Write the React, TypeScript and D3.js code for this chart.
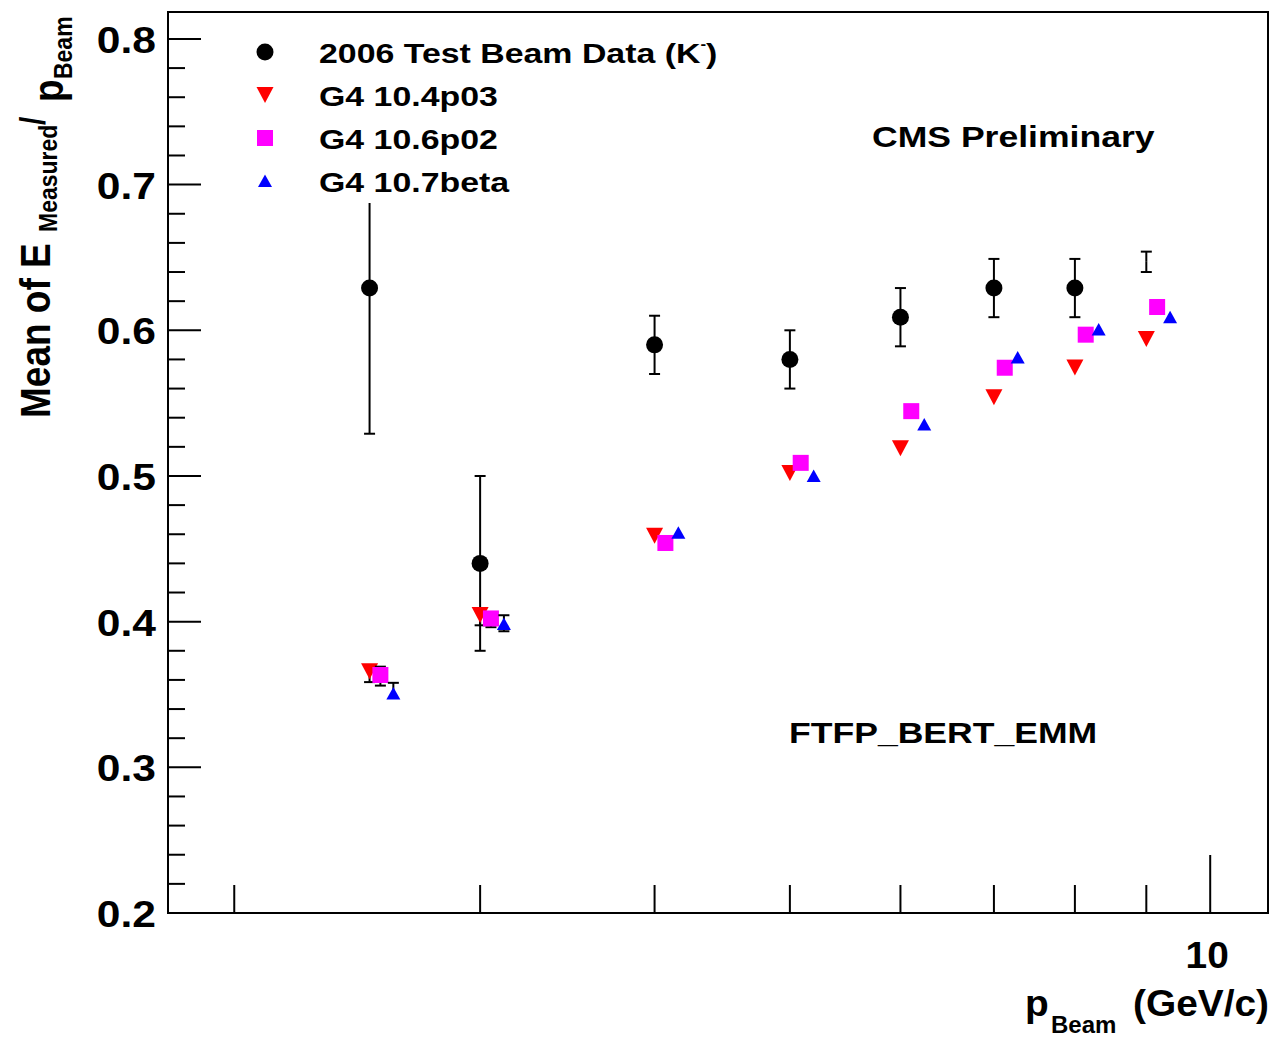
import React from 'react';
import * as d3 from 'd3';

// ---- data ----
const beamP = [2.5, 3, 4, 5, 6, 7, 8, 9];
const dataMean = [0.629, 0.44, 0.59, 0.58, 0.609, 0.629, 0.629, 0.647];
const dataErr = [0.1, 0.06, 0.02, 0.02, 0.02, 0.02, 0.02, 0.007];
const dataMarkerShown = [true, true, true, true, true, true, true, false];

const g4_104 = [0.366, 0.4045, 0.459, 0.502, 0.519, 0.554, 0.5745, 0.594];
const g4_104_lo = [0.0075, 0.007, 0, 0, 0, 0, 0, 0];
const g4_104_hi = [0, 0, 0, 0, 0, 0, 0, 0];

const g4_106 = [0.3634, 0.4022, 0.454, 0.509, 0.5445, 0.5743, 0.597, 0.616];
const g4_106_lo = [0.0073, 0.006, 0, 0, 0, 0, 0, 0];
const g4_106_hi = [0.0057, 0, 0, 0, 0, 0, 0, 0];

const g4_107 = [0.3507, 0.3984, 0.461, 0.5, 0.5354, 0.5813, 0.6006, 0.609];
const g4_107_lo = [0, 0.005, 0, 0, 0, 0, 0, 0];
const g4_107_hi = [0.0073, 0.006, 0, 0, 0, 0, 0, 0];

const xShift = { g104: 1.0, g106: 1.018, g107: 1.04 };

const yMajorTicks = [0.2, 0.3, 0.4, 0.5, 0.6, 0.7, 0.8];
const yTickLabels = ['0.2', '0.3', '0.4', '0.5', '0.6', '0.7', '0.8'];
const xMinorTicks = [2, 3, 4, 5, 6, 7, 8, 9];
const xMajorTicks = [10];
const xTickLabels = ['10'];

const legendLabels = ['2006 Test Beam Data (K', 'G4 10.4p03', 'G4 10.6p02', 'G4 10.7beta'];

// ---- layout ----
const W = 1269;
const H = 1038;
const L = 168, R = 1268, T = 12, B = 913;
const FONT = '"Liberation Sans", Arial, Helvetica, sans-serif';
const SX = 1.15;

const x = d3.scaleLog().domain([1.793, 11.0]).range([L, R]);
const y = d3.scaleLinear().domain([0.2, 0.8185]).range([B, T]);

function Txt({ x: tx, y: ty, size, anchor = 'start', sx = SX, children }: any) {
  return (
    <g transform={`translate(${tx},${ty}) scale(${sx},1)`}>
      <text x={0} y={0} fontSize={size} fontWeight="bold" fontFamily={FONT} textAnchor={anchor} fill="#000">
        {children}
      </text>
    </g>
  );
}

type Shape = 'circle' | 'tridown' | 'square' | 'triup';

function Marker({ cx, cy, shape, color }: { cx: number; cy: number; shape: Shape; color: string }) {
  if (shape === 'circle') return <circle cx={cx} cy={cy} r={8.5} fill={color} />;
  if (shape === 'square') return <rect x={cx - 8} y={cy - 8} width={16} height={16} fill={color} />;
  if (shape === 'tridown')
    return <polygon points={`${cx - 8.5},${cy - 8} ${cx + 8.5},${cy - 8} ${cx},${cy + 8}`} fill={color} />;
  return <polygon points={`${cx},${cy - 6.5} ${cx + 7},${cy + 6} ${cx - 7},${cy + 6}`} fill={color} />;
}

function ErrBar({ px, v, lo, hi }: { px: number; v: number; lo: number; hi: number }) {
  const c = 5.5;
  return (
    <g stroke="#000" strokeWidth={2}>
      {lo > 0 && <line x1={px} x2={px} y1={y(v)} y2={y(v - lo)} />}
      {lo > 0 && <line x1={px - c} x2={px + c} y1={y(v - lo)} y2={y(v - lo)} />}
      {hi > 0 && <line x1={px} x2={px} y1={y(v)} y2={y(v + hi)} />}
      {hi > 0 && <line x1={px - c} x2={px + c} y1={y(v + hi)} y2={y(v + hi)} />}
    </g>
  );
}

function Series({ vals, lo, hi, shift, shape, color }: any) {
  return (
    <g>
      {beamP.map((p, i) => (
        <ErrBar key={'e' + i} px={x(p * shift)} v={vals[i]} lo={lo[i]} hi={hi[i]} />
      ))}
      {beamP.map((p, i) => (
        <Marker key={'m' + i} cx={x(p * shift)} cy={y(vals[i])} shape={shape} color={color} />
      ))}
    </g>
  );
}

export default function App() {
  const yMinor: number[] = [];
  for (let v = 0.2; v < 0.8185; v += 0.02) {
    const r = Math.round(v * 100) / 100;
    if (Math.round(r * 100) % 10 !== 0) yMinor.push(r);
  }

  const legendRows = [52, 95, 138, 181];
  const legendShapes: Shape[] = ['circle', 'tridown', 'square', 'triup'];
  const legendColors = ['#000', '#ff0000', '#ff00ff', '#0000ff'];

  return (
    <svg width={W} height={H} style={{ position: 'absolute', left: 0, top: 0, background: '#fff' }}>
      <rect x={0} y={0} width={W} height={H} fill="#fff" />

      {/* ticks */}
      <g stroke="#000" strokeWidth={2}>
        {yMajorTicks.map((v) => (
          <line key={'ym' + v} x1={L} x2={L + 33} y1={y(v)} y2={y(v)} />
        ))}
        {yMinor.map((v) => (
          <line key={'yn' + v} x1={L} x2={L + 17} y1={y(v)} y2={y(v)} />
        ))}
        {xMinorTicks.map((v) => (
          <line key={'xn' + v} x1={x(v)} x2={x(v)} y1={B} y2={B - 28} />
        ))}
        {xMajorTicks.map((v) => (
          <line key={'xm' + v} x1={x(v)} x2={x(v)} y1={B} y2={B - 58} />
        ))}
      </g>

      {/* tick labels */}
      {yMajorTicks.map((v, i) => (
        <Txt key={'yl' + v} x={156} y={y(v) + 14} size={37} anchor="end">
          {yTickLabels[i]}
        </Txt>
      ))}
      {xMajorTicks.map((v, i) => (
        <Txt key={'xl' + v} x={x(v) - 3} y={968} size={37} anchor="middle" sx={1.05}>
          {xTickLabels[i]}
        </Txt>
      ))}

      {/* data */}
      <g>
        {beamP.map((p, i) => (
          <ErrBar key={'de' + i} px={x(p)} v={dataMean[i]} lo={dataErr[i]} hi={dataErr[i]} />
        ))}
        {beamP.map((p, i) =>
          dataMarkerShown[i] ? <Marker key={'dm' + i} cx={x(p)} cy={y(dataMean[i])} shape="circle" color="#000" /> : null
        )}
      </g>
      <Series vals={g4_104} lo={g4_104_lo} hi={g4_104_hi} shift={xShift.g104} shape="tridown" color="#ff0000" />
      <Series vals={g4_106} lo={g4_106_lo} hi={g4_106_hi} shift={xShift.g106} shape="square" color="#ff00ff" />
      <Series vals={g4_107} lo={g4_107_lo} hi={g4_107_hi} shift={xShift.g107} shape="triup" color="#0000ff" />

      {/* legend (white box) */}
      <rect x={225} y={14} width={515} height={189} fill="#fff" />
      {legendRows.map((ry, i) => (
        <g key={'lg' + i}>
          <Marker cx={265} cy={ry} shape={legendShapes[i]} color={legendColors[i]} />
          <Txt x={319} y={ry + 11} size={28} sx={1.21}>
            {legendLabels[i]}
            {i === 0 ? (
              <>
                <tspan fontSize={14} dy={-14}>-</tspan>
                <tspan dy={14}>)</tspan>
              </>
            ) : null}
          </Txt>
        </g>
      ))}

      {/* annotations */}
      <Txt x={872} y={147} size={30} sx={1.186}>CMS Preliminary</Txt>
      <Txt x={789} y={743} size={30} sx={1.186}>FTFP_BERT_EMM</Txt>

      {/* frame */}
      <rect x={L} y={T} width={R - L} height={B - T} fill="none" stroke="#000" strokeWidth={2} />

      {/* y title */}
      <g transform={`translate(50,418) scale(${SX},1) rotate(-90)`}>
        <text fontSize={37} fontWeight="bold" fontFamily={FONT} fill="#000">
          <tspan x={0} y={0}>Mean of E</tspan>
          <tspan x={186} y={6} fontSize={23}>Measured</tspan>
          <tspan x={293} y={-4} fontSize={30}>/</tspan>
          <tspan x={316} y={11}>p</tspan>
          <tspan x={339} y={19} fontSize={23}>Beam</tspan>
        </text>
      </g>

      {/* x title */}
      <Txt x={1025} y={1016} size={37} sx={1.05}>p</Txt>
      <Txt x={1051} y={1033} size={24} sx={1.0}>Beam</Txt>
      <Txt x={1269} y={1016} size={37} anchor="end" sx={1.05}>(GeV/c)</Txt>
    </svg>
  );
}
